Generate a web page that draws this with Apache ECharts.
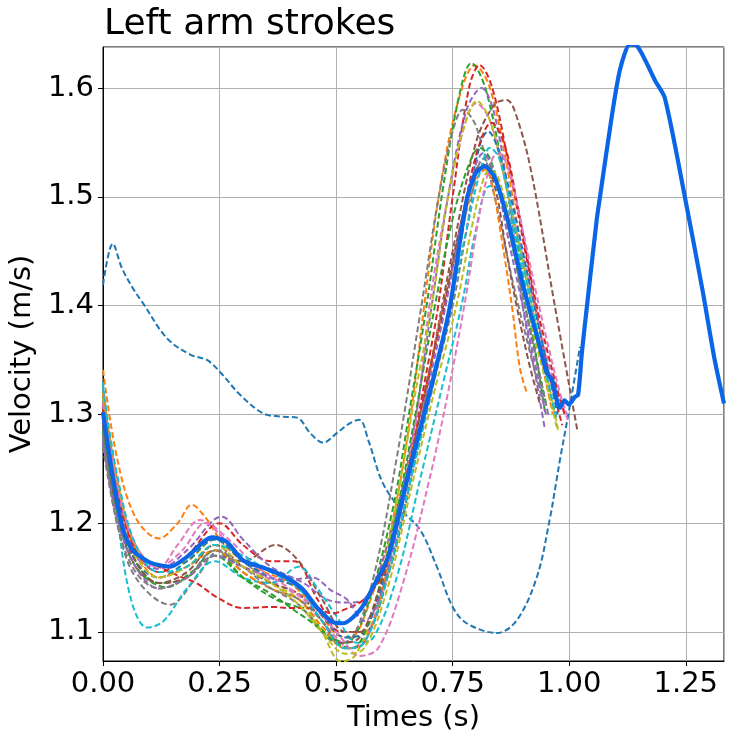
<!DOCTYPE html>
<html>
<head>
<meta charset="utf-8">
<title>Left arm strokes</title>
<script src="https://cdn.jsdelivr.net/npm/echarts@6/dist/echarts.min.js"></script>
<style>
  html, body { margin: 0; padding: 0; background: #fff; }
  #main { width: 732px; height: 746px; }
</style>
</head>
<body>
<div id="main"></div>
<script>
// tick labels
var xTicks = [0, 0.25, 0.5, 0.75, 1.0, 1.25];
var yTicks = [1.1, 1.2, 1.3, 1.4, 1.5, 1.6];

// single strokes, [time (s), velocity (m/s)]
var stroke01 = [[0,1.419],[0.021,1.457],[0.04,1.435],[0.064,1.416],[0.086,1.402],[0.137,1.370],[0.187,1.355],[0.223,1.350],[0.251,1.339],[0.294,1.318],[0.343,1.301],[0.379,1.298],[0.416,1.297],[0.444,1.283],[0.472,1.274],[0.502,1.283],[0.530,1.292],[0.55,1.295],[0.57,1.275],[0.60,1.237],[0.64,1.212],[0.68,1.194],[0.716,1.160],[0.75,1.123],[0.78,1.108],[0.845,1.099],[0.888,1.111],[0.931,1.151],[0.958,1.203],[0.973,1.240],[0.98,1.258],[1.001,1.307],[1.023,1.362]];
var stroke02 = [[0,1.341],[0.03,1.26],[0.07,1.205],[0.12,1.186],[0.16,1.2],[0.19,1.217],[0.22,1.205],[0.26,1.18],[0.32,1.16],[0.40,1.145],[0.46,1.12],[0.50,1.098],[0.53,1.095],[0.57,1.125],[0.62,1.2],[0.66,1.3],[0.689,1.4],[0.72,1.5],[0.76,1.585],[0.798,1.621],[0.83,1.6],[0.87,1.52],[0.91,1.42],[0.95,1.33],[0.965,1.30]];
var stroke03 = [[0,1.3],[0.03,1.22],[0.07,1.165],[0.12,1.145],[0.18,1.15],[0.24,1.175],[0.30,1.15],[0.37,1.13],[0.43,1.12],[0.48,1.098],[0.52,1.09],[0.56,1.115],[0.62,1.21],[0.66,1.31],[0.694,1.4],[0.73,1.51],[0.765,1.595],[0.79,1.623],[0.82,1.6],[0.86,1.52],[0.90,1.43],[0.948,1.302]];
var stroke04 = [[0,1.31],[0.03,1.235],[0.07,1.175],[0.12,1.155],[0.18,1.17],[0.25,1.2],[0.30,1.18],[0.36,1.165],[0.41,1.165],[0.46,1.13],[0.51,1.1],[0.55,1.1],[0.60,1.15],[0.65,1.24],[0.69,1.33],[0.719,1.4],[0.75,1.5],[0.785,1.6],[0.808,1.621],[0.835,1.6],[0.87,1.53],[0.91,1.44],[0.95,1.35],[0.985,1.29]];
var stroke05 = [[0,1.295],[0.03,1.225],[0.07,1.17],[0.12,1.158],[0.18,1.175],[0.255,1.206],[0.30,1.185],[0.36,1.16],[0.43,1.145],[0.48,1.13],[0.523,1.127],[0.56,1.13],[0.61,1.18],[0.66,1.27],[0.705,1.4],[0.74,1.5],[0.78,1.58],[0.812,1.600],[0.84,1.575],[0.87,1.5],[0.90,1.4],[0.93,1.33],[0.948,1.286]];
var stroke06 = [[0,1.28],[0.03,1.21],[0.07,1.16],[0.12,1.145],[0.18,1.15],[0.24,1.17],[0.30,1.165],[0.37,1.18],[0.42,1.165],[0.47,1.13],[0.52,1.1],[0.56,1.1],[0.61,1.15],[0.66,1.24],[0.71,1.36],[0.75,1.45],[0.80,1.55],[0.84,1.585],[0.866,1.589],[0.89,1.57],[0.92,1.52],[0.969,1.4],[1.018,1.284]];
var stroke07 = [[0,1.3],[0.03,1.225],[0.07,1.17],[0.12,1.16],[0.16,1.18],[0.208,1.203],[0.25,1.19],[0.30,1.165],[0.37,1.145],[0.43,1.13],[0.49,1.1],[0.53,1.085],[0.57,1.1],[0.62,1.18],[0.67,1.29],[0.70,1.4],[0.74,1.5],[0.775,1.565],[0.80,1.586],[0.83,1.57],[0.87,1.5],[0.92,1.41],[0.96,1.34],[0.997,1.295]];
var stroke08 = [[0,1.27],[0.03,1.2],[0.07,1.15],[0.144,1.125],[0.2,1.15],[0.25,1.175],[0.30,1.155],[0.36,1.14],[0.42,1.125],[0.47,1.1],[0.50,1.09],[0.535,1.095],[0.58,1.15],[0.63,1.26],[0.683,1.4],[0.72,1.5],[0.75,1.56],[0.772,1.58],[0.80,1.565],[0.84,1.5],[0.88,1.42],[0.92,1.35],[0.945,1.31]];
var stroke09 = [[0,1.315],[0.03,1.24],[0.07,1.18],[0.12,1.16],[0.18,1.165],[0.24,1.185],[0.30,1.165],[0.36,1.145],[0.42,1.13],[0.47,1.1],[0.51,1.073],[0.54,1.078],[0.58,1.12],[0.63,1.22],[0.67,1.32],[0.705,1.4],[0.74,1.5],[0.775,1.565],[0.802,1.588],[0.83,1.57],[0.87,1.5],[0.92,1.4],[0.955,1.33],[0.976,1.286]];
var stroke10 = [[0,1.33],[0.03,1.21],[0.06,1.13],[0.095,1.104],[0.13,1.11],[0.18,1.14],[0.24,1.165],[0.30,1.15],[0.36,1.145],[0.42,1.16],[0.46,1.14],[0.50,1.115],[0.545,1.09],[0.58,1.095],[0.63,1.15],[0.68,1.24],[0.73,1.33],[0.769,1.4],[0.80,1.47],[0.83,1.51],[0.86,1.5],[0.90,1.43],[0.94,1.35],[0.974,1.295]];
var stroke11 = [[0,1.29],[0.03,1.215],[0.07,1.165],[0.12,1.15],[0.18,1.165],[0.24,1.185],[0.30,1.165],[0.36,1.15],[0.42,1.14],[0.47,1.115],[0.52,1.095],[0.56,1.1],[0.61,1.16],[0.66,1.25],[0.71,1.34],[0.745,1.4],[0.78,1.49],[0.81,1.55],[0.826,1.56],[0.85,1.54],[0.88,1.49],[0.92,1.41],[0.955,1.34],[0.975,1.30]];
var stroke12 = [[0,1.32],[0.03,1.24],[0.07,1.175],[0.12,1.15],[0.18,1.16],[0.24,1.175],[0.30,1.155],[0.36,1.14],[0.42,1.13],[0.47,1.105],[0.52,1.085],[0.56,1.09],[0.60,1.14],[0.65,1.24],[0.69,1.32],[0.73,1.4],[0.77,1.47],[0.80,1.515],[0.82,1.525],[0.835,1.51],[0.851,1.472],[0.877,1.40],[0.894,1.343],[0.908,1.321]];
var stroke13 = [[0,1.285],[0.03,1.21],[0.07,1.16],[0.137,1.141],[0.19,1.155],[0.24,1.17],[0.30,1.15],[0.36,1.135],[0.41,1.12],[0.45,1.108],[0.50,1.09],[0.535,1.085],[0.57,1.11],[0.62,1.19],[0.67,1.3],[0.712,1.4],[0.75,1.48],[0.785,1.53],[0.808,1.545],[0.83,1.535],[0.86,1.49],[0.90,1.41],[0.93,1.35],[0.95,1.31]];
var stroke14 = [[0,1.305],[0.03,1.23],[0.07,1.175],[0.12,1.16],[0.165,1.151],[0.2,1.145],[0.244,1.132],[0.30,1.122],[0.364,1.123],[0.40,1.122],[0.45,1.122],[0.493,1.117],[0.515,1.12],[0.557,1.129],[0.594,1.148],[0.615,1.173],[0.65,1.24],[0.69,1.32],[0.733,1.4],[0.77,1.48],[0.805,1.545],[0.833,1.568],[0.86,1.55],[0.89,1.49],[0.93,1.40],[0.97,1.33],[0.99,1.30]];
var stroke15 = [[0,1.275],[0.03,1.205],[0.07,1.16],[0.12,1.14],[0.18,1.15],[0.24,1.17],[0.30,1.16],[0.36,1.15],[0.40,1.148],[0.45,1.15],[0.49,1.138],[0.523,1.13],[0.56,1.11],[0.60,1.14],[0.65,1.23],[0.70,1.33],[0.735,1.4],[0.77,1.48],[0.80,1.53],[0.815,1.54],[0.84,1.52],[0.87,1.46],[0.90,1.40],[0.93,1.34],[0.95,1.3]];
var stroke16 = [[0,1.29],[0.03,1.215],[0.07,1.165],[0.12,1.145],[0.18,1.155],[0.24,1.18],[0.30,1.16],[0.36,1.145],[0.42,1.135],[0.47,1.11],[0.51,1.09],[0.55,1.095],[0.60,1.15],[0.65,1.24],[0.70,1.34],[0.73,1.4],[0.77,1.48],[0.80,1.525],[0.815,1.53],[0.84,1.51],[0.865,1.45],[0.887,1.40],[0.915,1.345],[0.937,1.31]];
var stroke17 = [[0,1.31],[0.03,1.235],[0.07,1.18],[0.12,1.16],[0.17,1.175],[0.22,1.2],[0.27,1.185],[0.33,1.16],[0.40,1.14],[0.46,1.12],[0.51,1.095],[0.55,1.078],[0.59,1.085],[0.64,1.14],[0.70,1.24],[0.74,1.32],[0.775,1.4],[0.81,1.49],[0.835,1.535],[0.85,1.54],[0.87,1.525],[0.90,1.47],[0.93,1.41],[0.951,1.37],[0.98,1.32],[0.995,1.30]];
var stroke18 = [[0,1.28],[0.03,1.2],[0.07,1.155],[0.12,1.14],[0.18,1.15],[0.24,1.175],[0.30,1.16],[0.36,1.14],[0.42,1.13],[0.47,1.11],[0.52,1.085],[0.56,1.09],[0.61,1.15],[0.66,1.24],[0.71,1.33],[0.75,1.4],[0.78,1.47],[0.80,1.52],[0.815,1.535],[0.84,1.52],[0.87,1.47],[0.90,1.41],[0.93,1.35],[0.955,1.30]];
var stroke19 = [[0,1.3],[0.03,1.22],[0.07,1.17],[0.12,1.15],[0.18,1.16],[0.24,1.18],[0.30,1.16],[0.36,1.145],[0.42,1.125],[0.47,1.1],[0.52,1.08],[0.56,1.085],[0.61,1.14],[0.66,1.23],[0.71,1.32],[0.758,1.4],[0.79,1.47],[0.815,1.515],[0.83,1.525],[0.85,1.515],[0.88,1.46],[0.92,1.38],[0.95,1.33],[0.975,1.285]];
var stroke20 = [[0,1.325],[0.03,1.245],[0.07,1.18],[0.12,1.155],[0.18,1.16],[0.24,1.18],[0.30,1.17],[0.36,1.155],[0.42,1.14],[0.47,1.11],[0.52,1.085],[0.56,1.09],[0.61,1.15],[0.66,1.24],[0.72,1.35],[0.745,1.4],[0.78,1.47],[0.81,1.525],[0.83,1.545],[0.85,1.535],[0.88,1.48],[0.92,1.40],[0.95,1.34],[0.97,1.30]];

// average stroke (thick line)
var meanStroke = [[0,1.302],[0.02,1.245],[0.043,1.194],[0.064,1.175],[0.10,1.164],[0.144,1.160],[0.18,1.169],[0.234,1.187],[0.265,1.183],[0.30,1.166],[0.351,1.158],[0.394,1.150],[0.429,1.139],[0.458,1.123],[0.493,1.109],[0.515,1.108],[0.551,1.120],[0.579,1.141],[0.609,1.166],[0.630,1.200],[0.652,1.240],[0.708,1.332],[0.744,1.399],[0.780,1.497],[0.80,1.522],[0.819,1.528],[0.84,1.518],[0.868,1.479],[0.90,1.42],[0.937,1.362],[0.952,1.338],[0.963,1.332],[0.98,1.306],[0.99,1.313],[0.999,1.309],[1.012,1.316],[1.019,1.318],[1.027,1.356],[1.034,1.384],[1.059,1.479],[1.066,1.500],[1.091,1.573],[1.109,1.617],[1.13,1.640],[1.145,1.639],[1.184,1.607],[1.205,1.591],[1.248,1.500],[1.286,1.414],[1.312,1.350],[1.332,1.310]];

var strokes = [stroke01, stroke02, stroke03, stroke04, stroke05, stroke06, stroke07, stroke08, stroke09, stroke10,
               stroke11, stroke12, stroke13, stroke14, stroke15, stroke16, stroke17, stroke18, stroke19, stroke20];
var palette = ['#1f77b4', '#ff7f0e', '#2ca02c', '#d62728', '#9467bd', '#8c564b', '#e377c2', '#7f7f7f', '#bcbd22', '#17becf'];

var font = 'DejaVu Sans';

function onTick(v, list) {
  for (var i = 0; i < list.length; i++) {
    if (Math.abs(v - list[i]) < 1e-6) return true;
  }
  return false;
}

var series = strokes.map(function (d, i) {
  return {
    type: 'line',
    data: d,
    smooth: 0.35,
    showSymbol: false,
    clip: true,
    lineStyle: { color: palette[i % 10], width: 2, type: [6, 3] },
    z: 2
  };
});
series.push({
  type: 'line',
  data: meanStroke,
  smooth: 0.25,
  showSymbol: false,
  clip: true,
  lineStyle: { color: '#0a66e6', width: 4.2 },
  z: 3
});

var myChart = echarts.init(document.getElementById('main'));
myChart.setOption({
  animation: false,
  backgroundColor: '#fff',
  title: {
    text: 'Left arm strokes',
    left: 99,
    top: 2,
    textStyle: { fontFamily: font, fontSize: 36, fontWeight: 'normal', color: '#000' }
  },
  grid: {
    left: 103, right: 8, top: 47, bottom: 85,
    show: true, borderColor: '#000', borderWidth: 1
  },
  xAxis: {
    type: 'value',
    min: 0,
    max: 1.332,
    interval: 0.25,
    name: 'Times (s)',
    nameLocation: 'middle',
    nameGap: 42,
    nameTextStyle: { fontFamily: font, fontSize: 29, color: '#000' },
    axisLine: { show: true, lineStyle: { color: '#000', width: 1 } },
    axisTick: { show: true, inside: false, length: 5, lineStyle: { color: '#000' } },
    axisLabel: {
      fontFamily: font, fontSize: 29, color: '#000', margin: 9,
      showMaxLabel: false,
      formatter: function (v) { return onTick(v, xTicks) ? v.toFixed(2) : ''; }
    },
    splitLine: { show: true, lineStyle: { color: '#b0b0b0', width: 1 } }
  },
  yAxis: {
    type: 'value',
    min: 1.0733,
    max: 1.6377,
    splitNumber: 5,
    minInterval: 0.1,
    maxInterval: 0.1,
    name: 'Velocity (m/s)',
    nameLocation: 'middle',
    nameGap: 60,
    nameTextStyle: { fontFamily: font, fontSize: 29, color: '#000' },
    axisLine: { show: true, lineStyle: { color: '#000', width: 1 } },
    axisTick: { show: true, inside: false, length: 5, lineStyle: { color: '#000' } },
    axisLabel: {
      fontFamily: font, fontSize: 29, color: '#000', margin: 9,
      showMinLabel: false, showMaxLabel: false,
      formatter: function (v) { return onTick(v, yTicks) ? v.toFixed(1) : ''; }
    },
    splitLine: { show: true, lineStyle: { color: '#b0b0b0', width: 1 } }
  },
  series: series
});

window.addEventListener('resize', function () {
  myChart.resize();
});
</script>
</body>
</html>
